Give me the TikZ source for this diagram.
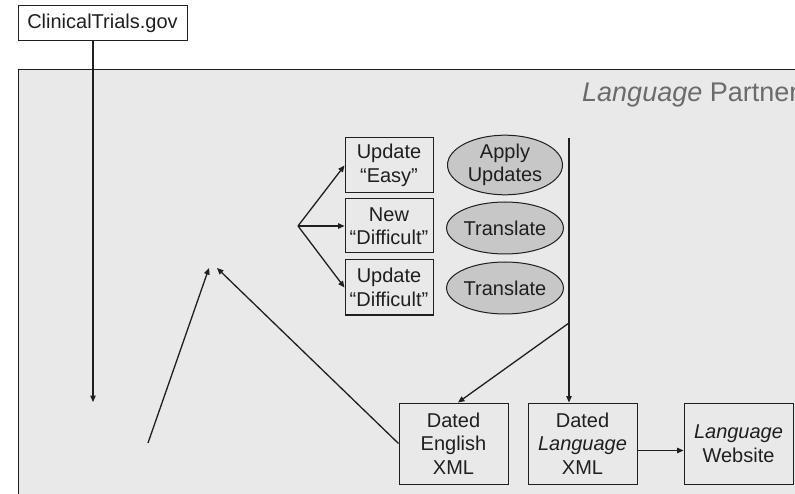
\documentclass[tikz,border=0pt]{standalone}
\usepackage{fontspec}
\setmainfont{Liberation Sans}
\usetikzlibrary{arrows.meta,shapes.geometric}
\definecolor{panel}{gray}{0.915}
\definecolor{oval}{gray}{0.78}
\definecolor{ink}{gray}{0.12}
\definecolor{titlegray}{gray}{0.42}
\tikzset{
  arr/.style={draw=ink, line width=1.3pt, -{Triangle[length=6.5pt,width=5.5pt]}},
  plain/.style={draw=ink, line width=1.2pt},
  box/.style={draw=ink, line width=1pt, align=center, inner sep=0pt,
    font=\fontsize{20}{23.5}\selectfont, text=ink},
  oval/.style={ellipse, draw=ink, line width=1pt, fill=oval, inner sep=0pt,
    minimum width=115pt, minimum height=52pt, align=center,
    font=\fontsize{20}{23.5}\selectfont, text=ink}
}
\begin{document}
\begin{tikzpicture}[x=1pt,y=-1pt]
\useasboundingbox (0,0) rectangle (795,494);
\clip (0,0) rectangle (795,494);
\fill[white] (0,0) rectangle (795,494);

% partner area
\fill[panel] (18,70) rectangle (800,500);
\draw[plain, line width=1pt] (18,500) -- (18,70) -- (800,70);
\node[anchor=base west, text=titlegray, font=\fontsize{27}{29}\selectfont, inner sep=0pt]
  (title) at (582,102) {\textit{Language} Partner};

% source
\node[box, minimum width=169pt, minimum height=35pt] (ct) at (102.5,23.5) {ClinicalTrials.gov};

% change categories
\node[box, minimum width=88pt, minimum height=55pt] (ue) at (389,165.5) {Update\\“Easy”};
\node[box, minimum width=88pt, minimum height=54pt] (nd) at (389,226) {New\\“Difficult”};
\node[box, minimum width=88pt, minimum height=55pt] (ud) at (389,287.5) {Update\\“Difficult”};

% partner tasks
\node[oval] (ea) at (505,165) {Apply\\Updates};
\node[oval] (t1) at (505,228) {Translate};
\node[oval] (t2) at (505,288) {Translate};

% outputs
\node[box, minimum width=109pt, minimum height=81pt] (dex) at (453.5,443.5) {Dated\\English\\XML};
\node[box, minimum width=109pt, minimum height=81pt] (dlx) at (582.5,443.5) {Dated\\\textit{Language}\\XML};
\node[box, minimum width=109pt, minimum height=81pt] (web) at (738.5,443.5) {\textit{Language}\\Website};

% helper points
\coordinate (fork) at (298,226);
\coordinate (vtop) at (569,138);
\coordinate (vjoin) at (569,323);
\coordinate (ctend) at (93,402);
\coordinate (peakA) at (209,268);
\coordinate (peakB) at (217,268);
\coordinate (footA) at (148,443);

% connectors
\draw[arr] (ct.south -| ctend) -- (ctend);
\draw[arr] (fork) -- (ue.west);
\draw[arr] (fork) -- (nd.west);
\draw[arr] (fork) -- (ud.west);
\draw[arr] (vtop) -- (vtop |- dlx.north);
\draw[arr] (vjoin) -- ([xshift=4.5pt]dex.north);
\draw[arr] (footA) -- (peakA);
\draw[arr] (dex.west) -- (peakB);
\draw[arr] ([yshift=-7pt]dlx.east) -- ([yshift=-7pt]web.west);
\end{tikzpicture}
\end{document}
